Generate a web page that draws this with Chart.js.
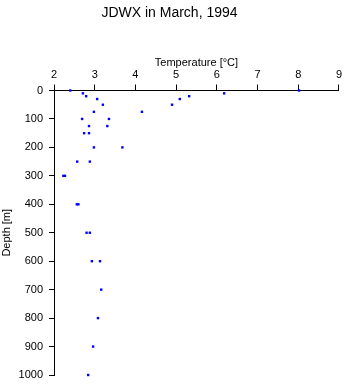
<!DOCTYPE html>
<html>
<head>
<meta charset="utf-8">
<script src="https://cdn.jsdelivr.net/npm/chart.js@4/dist/chart.umd.min.js"></script>
<style>
    html, body { margin: 0; padding: 0; background: #fff; }
    #wrap { width: 345px; height: 384px; }
</style>
</head>
<body>
<div id="wrap"><canvas id="profileChart"></canvas></div>
<script>
// Standard sampling depths [m]
const depthLevels = [0, 10, 20, 30, 50, 75, 100, 125, 150, 200, 250, 300, 400, 500, 600, 700, 800, 900, 1000];
// Two temperature readings per level (null where only one was plotted)
const tempFirst  = [2.40, 2.71, 2.79, 3.06, 3.20, 2.98, 2.69, 2.86, 2.74, 2.98, 2.57, 2.23, 2.56, 2.80, 2.93, 3.16, 3.08, 2.96, 2.84];
const tempSecond = [8.02, 6.18, 5.32, 5.09, 4.90, 4.16, 3.35, 3.31, 2.86, 3.68, 2.88, 2.27, 2.60, 2.88, 3.13, null, null, null, null];

const fontFamily = '"Liberation Sans", Arial, Helvetica, sans-serif';

const points = [];
depthLevels.forEach((d, i) => {
    if (tempFirst[i] !== null) points.push({ x: tempFirst[i], y: d });
    if (tempSecond[i] !== null) points.push({ x: tempSecond[i], y: d });
});

new Chart(document.getElementById('profileChart'), {
    type: 'scatter',
    data: {
        datasets: [{
            data: points,
            backgroundColor: '#0000ff',
            borderColor: '#0000ff',
            borderWidth: 0,
            pointStyle: 'rect',
            pointRadius: 1.7,
            pointHoverRadius: 1.7,
            clip: false
        }]
    },
    options: {
        responsive: true,
        maintainAspectRatio: false,
        animation: false,
        events: [],
        layout: { padding: { left: 0, right: 6, top: 0, bottom: 9 } },
        plugins: {
            legend: { display: false },
            tooltip: { enabled: false },
            title: {
                display: true,
                text: 'JDWX in March, 1994',
                color: '#000',
                font: { family: fontFamily, size: 14, weight: 'normal' },
                padding: { top: 5, bottom: 0 }
            }
        },
        scales: {
            x: {
                type: 'linear',
                position: 'top',
                min: 2,
                max: 9,
                ticks: { stepSize: 1, color: '#000', padding: 3, font: { family: fontFamily, size: 11 },
                         callback: v => String(v) },
                grid: { drawOnChartArea: false, drawTicks: true, tickLength: 6, color: '#000' },
                border: { display: true, color: '#000', width: 1 },
                title: {
                    display: true,
                    text: 'Temperature [°C]',
                    color: '#000',
                    font: { family: fontFamily, size: 11 },
                    padding: { top: 35, bottom: 0 }
                },
                afterFit: function(scale) { scale.height = 68.7; }
            },
            y: {
                type: 'linear',
                reverse: true,
                min: 0,
                max: 1000,
                ticks: { stepSize: 100, color: '#000', padding: 6, font: { family: fontFamily, size: 11 },
                         callback: v => String(v) },
                grid: { drawOnChartArea: false, drawTicks: true, tickLength: 5, color: '#000' },
                border: { display: true, color: '#000', width: 1 },
                title: {
                    display: true,
                    text: 'Depth [m]',
                    color: '#000',
                    font: { family: fontFamily, size: 11 },
                    padding: { top: 0, bottom: 0 }
                },
                afterFit: function(scale) {
                    scale.width = 54;
                    scale.paddingTop = 0;
                    scale.paddingBottom = 0;
                }
            }
        }
    }
});
</script>
</body>
</html>
